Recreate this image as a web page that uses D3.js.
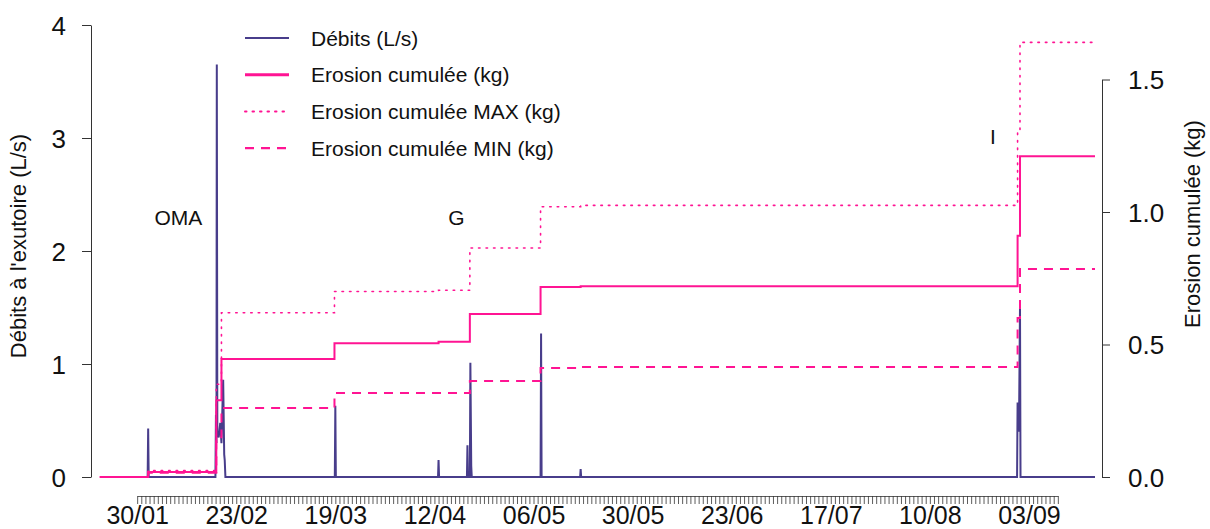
<!DOCTYPE html>
<html lang="fr">
<head>
<meta charset="UTF-8">
<title>Débits et érosion cumulée</title>
<script src="https://d3js.org/d3.v7.min.js"></script>
<style>
  body { margin: 0; background: #fff; }
  text { font-family: "Liberation Sans", Arial, sans-serif; fill: #111; }
</style>
</head>
<body>
<script>
    var width = 1210, height = 529;

    // débits à l'exutoire (L/s)
    var qTimes = ["2015-01-21T00", "2015-02-01T13", "2015-02-01T16", "2015-02-01T19",
        "2015-02-17T23", "2015-02-18T02", "2015-02-18T05", "2015-02-18T07", "2015-02-18T10",
        "2015-02-18T18", "2015-02-19T03", "2015-02-19T10", "2015-02-19T20", "2015-02-20T02",
        "2015-02-20T05", "2015-02-20T09", "2015-03-18T21", "2015-03-19T00", "2015-03-19T03",
        "2015-04-12T21", "2015-04-13T00", "2015-04-13T03", "2015-04-19T21", "2015-04-20T00",
        "2015-04-20T03", "2015-04-20T14", "2015-04-20T17", "2015-04-20T22", "2015-04-21T01",
        "2015-05-07T17", "2015-05-07T20", "2015-05-07T23", "2015-05-17T07", "2015-05-17T10",
        "2015-05-17T13", "2015-08-31T03", "2015-08-31T06", "2015-08-31T10", "2015-08-31T14",
        "2015-08-31T20", "2015-08-31T23", "2015-09-19T00"];
    var qValues = [0, 0, 0.43, 0,
        0, 0.55, 0.3, 3.65, 0.4,
        0.35, 0.48, 0.3, 0.86, 0.2,
        0.15, 0, 0, 0.63, 0,
        0, 0.15, 0, 0, 0.28,
        0, 0, 1.01, 0.1, 0,
        0, 1.27, 0, 0, 0.07,
        0, 0, 0.66, 0.6, 0.4,
        1.5, 0, 0];

    // érosion cumulée (kg) : dates de changement et valeurs
    var eTimes = ["2015-01-21T00", "2015-02-01T16", "2015-02-18T04", "2015-02-19T10",
        "2015-03-18T19", "2015-04-13T00", "2015-04-20T14", "2015-05-07T17",
        "2015-05-17T10", "2015-08-31T06", "2015-08-31T20", "2015-09-19T00"];
    var eroMean = [0, 0.019, 0.29, 0.445, 0.505, 0.51, 0.615, 0.717, 0.72, 0.91, 1.21, 1.21];
    var eroMax = [0, 0.024, 0.35, 0.62, 0.70, 0.705, 0.864, 1.02, 1.025, 1.30, 1.64, 1.64];
    var eroMin = [0, 0.016, 0.15, 0.26, 0.317, 0.317, 0.362, 0.411, 0.415, 0.60, 0.785, 0.785];

    // axe des dates
    var xAxisStart = "2015-01-30T00", xAxisEnd = "2015-09-10T00";
    var xTickLabels = ["30/01", "23/02", "19/03", "12/04", "06/05", "30/05", "23/06", "17/07", "10/08", "03/09"];
    var yLeftTicks = [0, 1, 2, 3, 4];
    var yRightTicks = [0, 0.5, 1.0, 1.5];

    // annotations
    var notes = [{ label: "OMA", t: "2015-02-09T00", v: 2.3 },
        { label: "G", t: "2015-04-17T08", v: 2.3 },
        { label: "I", t: "2015-08-25T06", v: 3.01 }];

    var parse = d3.timeParse("%Y-%m-%dT%H");
    var fmt = d3.timeFormat("%d/%m");

    var svg = d3.select('body').append('svg').attr('width', width).attr('height', height);

    var x = d3.scaleTime()
        .domain([parse(qTimes[0]), parse(qTimes[qTimes.length - 1])])
        .range([100, 1095]);
    var yL = d3.scaleLinear().domain([0, 4]).range([477, 25]);
    var yR = d3.scaleLinear().domain([0, 1.5]).range([477, 79.5]);

    var blue = "#483d8b", pink = "#ff1493";

    // débits
    var qData = qTimes.map(function (t, i) { return { t: parse(t), v: qValues[i] }; });
    svg.append('path')
        .datum(qData)
        .attr('fill', 'none')
        .attr('stroke', blue)
        .attr('stroke-width', 2)
        .attr('d', d3.line().x(function (d) { return x(d.t); }).y(function (d) { return yL(d.v); }));

    // érosion
    function eroPath(vals, dash, w) {
        var data = eTimes.map(function (t, i) { return { t: parse(t), v: vals[i] }; });
        svg.append('path')
            .datum(data)
            .attr('fill', 'none')
            .attr('stroke', pink)
            .attr('stroke-width', w)
            .attr('stroke-dasharray', dash)
            .attr('stroke-linecap', dash === "1.5 6" ? 'round' : 'butt')
            .attr('d', d3.line().curve(d3.curveStepAfter)
                .x(function (d) { return x(d.t); }).y(function (d) { return yR(d.v); }));
    }
    eroPath(eroMax, "1.5 6", 1.6);
    eroPath(eroMin, "9 7", 2);
    eroPath(eroMean, null, 2);

    // axe gauche
    var gL = svg.append('g').attr('transform', 'translate(91,0)')
        .call(d3.axisLeft(yL).tickValues(yLeftTicks).tickSize(9).tickSizeOuter(0).tickPadding(16)
            .tickFormat(d3.format('d')));
    gL.selectAll('text').style('font-size', '26px').attr('dy', '0.36em');
    gL.selectAll('path,line').attr('stroke', '#333');

    // axe droit
    var gR = svg.append('g').attr('transform', 'translate(1102,0)')
        .call(d3.axisRight(yR).tickValues(yRightTicks).tickSize(8).tickSizeOuter(0).tickPadding(18)
            .tickFormat(d3.format('.1f')));
    gR.selectAll('text').style('font-size', '26px').attr('dy', '0.36em');
    gR.selectAll('path,line').attr('stroke', '#333');

    // axe des dates : un trait par jour
    var days = d3.timeDay.range(parse(xAxisStart), d3.timeDay.offset(parse(xAxisEnd), 1));
    var xa = x.copy().domain([days[0], days[days.length - 1]])
        .range([x(days[0]), x(days[days.length - 1])]);
    var gX = svg.append('g').attr('transform', 'translate(0,496)')
        .call(d3.axisBottom(xa).tickValues(days).tickSize(8).tickSizeOuter(0).tickPadding(2)
            .tickFormat(function (d) { return xTickLabels.indexOf(fmt(d)) >= 0 ? fmt(d) : ""; }));
    gX.selectAll('text').style('font-size', '25px').attr('dy', '0.7em');
    gX.selectAll('path,line').attr('stroke', '#333').attr('stroke-width', 0.8);

    // titres des axes
    svg.append('text')
        .attr('transform', 'translate(26,246) rotate(-90)')
        .attr('text-anchor', 'middle')
        .style('font-size', '22px')
        .text("Débits à l'exutoire (L/s)");
    svg.append('text')
        .attr('transform', 'translate(1200,224) rotate(-90)')
        .attr('text-anchor', 'middle')
        .style('font-size', '22px')
        .text("Erosion cumulée (kg)");

    // annotations des événements
    svg.selectAll('.note').data(notes).join('text')
        .attr('class', 'note')
        .attr('x', function (d) { return x(parse(d.t)); })
        .attr('y', function (d) { return yL(d.v); })
        .attr('text-anchor', 'middle')
        .attr('dy', '0.36em')
        .style('font-size', '21px')
        .text(function (d) { return d.label; });

    // légende
    var legend = [{ label: "Débits (L/s)", color: blue, dash: null, w: 2 },
        { label: "Erosion cumulée (kg)", color: pink, dash: null, w: 3 },
        { label: "Erosion cumulée MAX (kg)", color: pink, dash: "1.5 6", w: 2 },
        { label: "Erosion cumulée MIN (kg)", color: pink, dash: "9 7", w: 2.2 }];
    var lg = svg.selectAll('.leg').data(legend).join('g')
        .attr('class', 'leg')
        .attr('transform', function (d, i) { return 'translate(245,' + (38 + i * 36.7) + ')'; });
    lg.append('line')
        .attr('x1', 0).attr('x2', 44)
        .attr('stroke', function (d) { return d.color; })
        .attr('stroke-width', function (d) { return d.w; })
        .attr('stroke-dasharray', function (d) { return d.dash; })
        .attr('stroke-linecap', function (d) { return d.dash === "1.5 6" ? 'round' : 'butt'; });
    lg.append('text')
        .attr('x', 66)
        .attr('dy', '0.36em')
        .style('font-size', '21px')
        .text(function (d) { return d.label; });
</script>
</body>
</html>
